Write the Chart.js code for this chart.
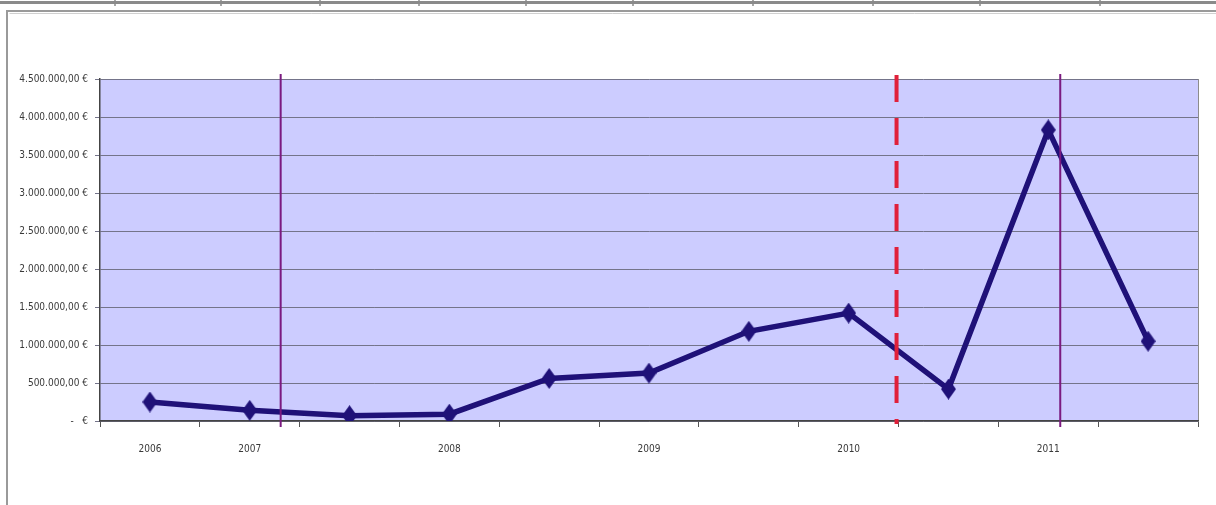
<!DOCTYPE html>
<html>
<head>
<meta charset="utf-8">
<script src="https://cdn.jsdelivr.net/npm/chart.js@4/dist/chart.umd.min.js"></script>
<style>
  html, body { margin: 0; padding: 0; background: #fff; }
  #wrap { width: 1216px; height: 505px; }
</style>
</head>
<body>
<div id="wrap"><canvas id="chart"></canvas></div>
<script>
const labels = ['2006', '2007', '', '2008', '', '2009', '', '2010', '', '2011', ''];
const amounts = [250000, 140000, 70000, 90000, 560000, 630000, 1180000, 1420000, 420000, 3830000, 1050000];
const yTicks = [0, 500000, 1000000, 1500000, 2000000, 2500000, 3000000, 3500000, 4000000, 4500000];
// vertical markers, in category units
const solidMarks = [1.31, 9.12];
const dashedMarks = [7.48];

const navy = '#1f1178';

function euro(v) {
  if (v === 0) return '-   €';
  const s = Math.round(v).toString().replace(/\B(?=(\d{3})+(?!\d))/g, '.');
  return s + ',00 €';
}

// tall diamond marker
const diamond = document.createElement('canvas');
diamond.width = 15;
diamond.height = 21;
{
  const c = diamond.getContext('2d');
  c.fillStyle = navy;
  c.beginPath();
  c.moveTo(7.5, 0);
  c.lineTo(15, 10.5);
  c.lineTo(7.5, 21);
  c.lineTo(0, 10.5);
  c.closePath();
  c.fill();
}

const frame = {
  id: 'frame',
  beforeDraw(chart) {
    const { ctx, width, height, chartArea: { left, right, top, bottom } } = chart;
    ctx.save();
    // top strip of the sheet
    ctx.strokeStyle = '#8a8a8a';
    ctx.lineWidth = 3;
    ctx.beginPath();
    ctx.moveTo(0, 2.5);
    ctx.lineTo(width, 2.5);
    ctx.stroke();
    ctx.lineWidth = 1.5;
    [115, 221, 320, 419, 526, 633, 753, 873, 980, 1100].forEach((px) => {
      ctx.beginPath();
      ctx.moveTo(px, 0);
      ctx.lineTo(px, 6);
      ctx.stroke();
    });
    // chart box
    ctx.strokeStyle = '#9a9a9a';
    ctx.lineWidth = 2;
    ctx.beginPath();
    ctx.moveTo(width, 11);
    ctx.lineTo(7, 11);
    ctx.lineTo(7, height);
    ctx.stroke();
    ctx.strokeStyle = '#d0d0d0';
    ctx.lineWidth = 1;
    ctx.beginPath();
    ctx.moveTo(width, 13.5);
    ctx.lineTo(9.5, 13.5);
    ctx.stroke();
    // plot background
    ctx.fillStyle = '#ccccff';
    ctx.fillRect(left, top, right - left, bottom - top);
    ctx.strokeStyle = '#8c8c8c';
    ctx.lineWidth = 1;
    ctx.beginPath();
    ctx.moveTo(right + 0.5, top);
    ctx.lineTo(right + 0.5, bottom);
    ctx.stroke();
    ctx.restore();
  },
  afterDatasetsDraw(chart) {
    const { ctx, chartArea: { top, bottom }, scales: { x } } = chart;
    ctx.save();
    ctx.strokeStyle = '#7a1a80';
    ctx.lineWidth = 2;
    solidMarks.forEach((v) => {
      const px = x.getPixelForValue(v);
      ctx.beginPath();
      ctx.moveTo(px, top - 5);
      ctx.lineTo(px, bottom + 6);
      ctx.stroke();
    });
    ctx.strokeStyle = '#e0203a';
    ctx.lineWidth = 4;
    ctx.setLineDash([27, 16]);
    dashedMarks.forEach((v) => {
      const px = x.getPixelForValue(v);
      ctx.beginPath();
      ctx.moveTo(px, top - 4);
      ctx.lineTo(px, bottom + 3);
      ctx.stroke();
    });
    ctx.restore();
  },
};

const tickFont = { family: '"Liberation Sans Narrow", "DejaVu Sans Condensed", sans-serif', size: 10 };

new Chart(document.getElementById('chart'), {
  type: 'line',
  data: {
    labels,
    datasets: [
      {
        data: amounts,
        borderColor: navy,
        borderWidth: 5.5,
        pointStyle: diamond,
        pointRadius: 8,
        tension: 0,
        fill: false,
      },
    ],
  },
  options: {
    responsive: true,
    maintainAspectRatio: false,
    animation: false,
    layout: { padding: { left: 10, right: 18, top: 79, bottom: 44 } },
    scales: {
      x: {
        offset: true,
        grid: {
          offset: true,
          drawOnChartArea: false,
          drawTicks: true,
          tickLength: 6,
          color: '#555',
        },
        border: { color: '#444', width: 1.5 },
        ticks: { color: '#3a3a3a', font: tickFont, padding: 16, maxRotation: 0, autoSkip: false },
        afterFit(scale) { scale.height = 40; },
      },
      y: {
        min: 0,
        max: 4500000,
        afterBuildTicks(scale) { scale.ticks = yTicks.map((v) => ({ value: v })); },
        grid: { color: '#74748a', lineWidth: 1, tickLength: 5 },
        border: { color: '#444', width: 1.5 },
        ticks: { color: '#3a3a3a', font: tickFont, padding: 7, callback: (v) => euro(v) },
        afterFit(scale) { scale.width = 90; },
      },
    },
    plugins: {
      legend: { display: false },
      tooltip: { enabled: false },
    },
  },
  plugins: [frame],
});
</script>
</body>
</html>
